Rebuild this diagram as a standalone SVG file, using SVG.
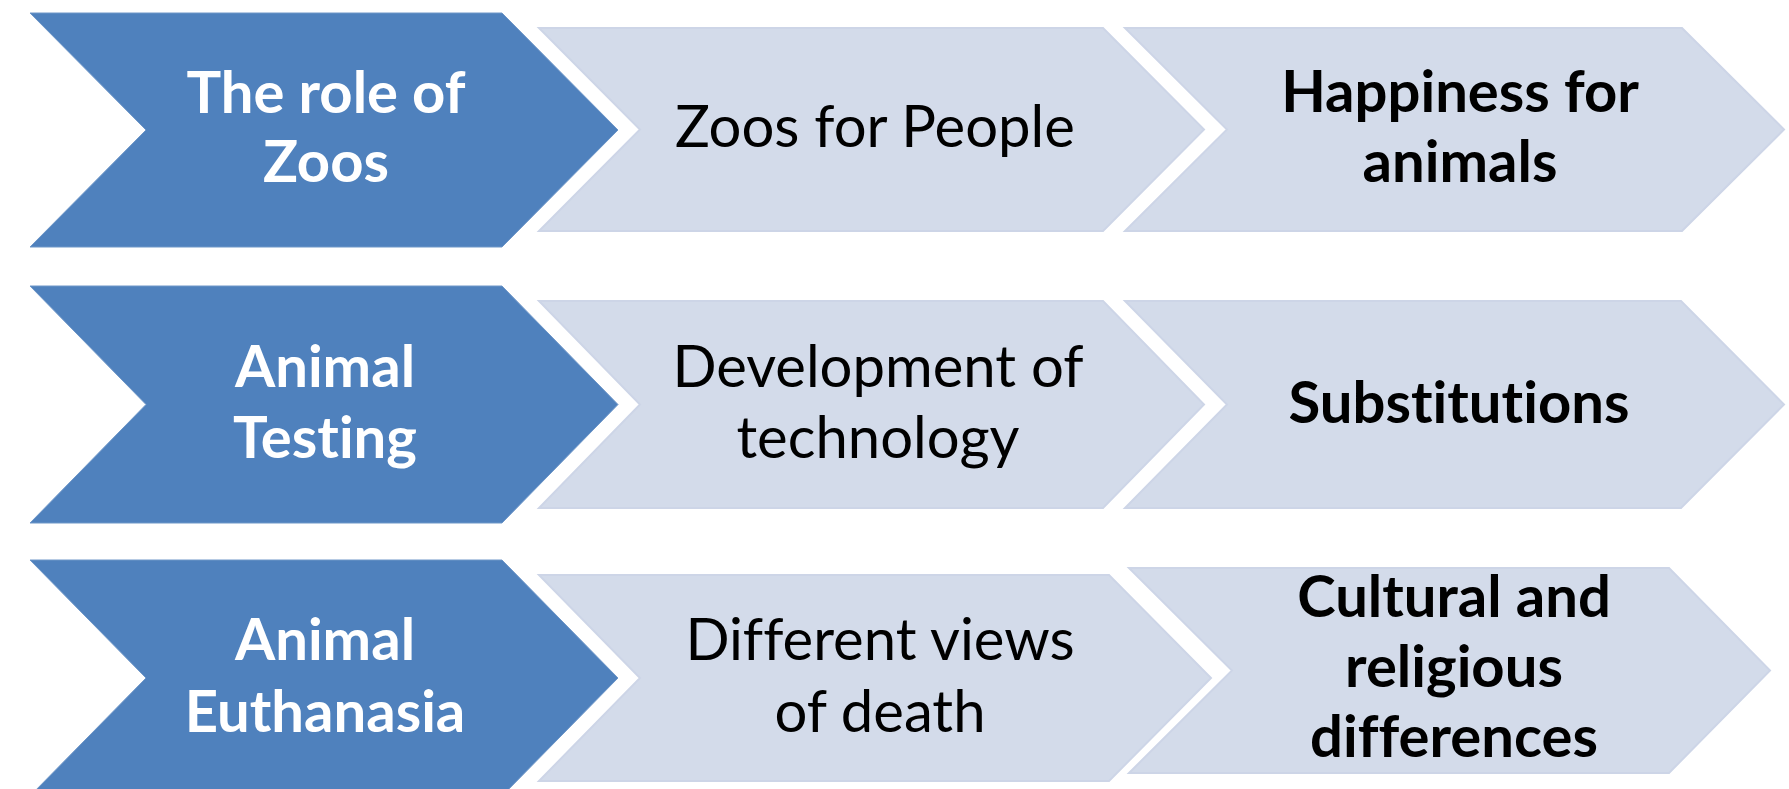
<svg xmlns="http://www.w3.org/2000/svg" width="1789" height="789" viewBox="0 0 1789 789">
<style>
.dark{fill:#4f81bd;stroke:#6f97c8;stroke-width:1}
.light{fill:#d3dbea;stroke:#cdd5e7;stroke-width:2}
text{font-family:Lato,"Liberation Sans",sans-serif;font-size:58px;text-anchor:middle;font-variant-ligatures:none;font-feature-settings:"liga" 0,"clig" 0}
.w{fill:#ffffff;font-weight:bold}
.b{fill:#000000;font-weight:bold}
.r{fill:#000000;font-weight:normal}
</style>
<rect width="1789" height="789" fill="#ffffff"/>
<g id="connectors"/>
<g id="row1-head">
<path class="dark" d="M30,13 L502,13 L618,130 L502,247 L30,247 L146,130 Z"/>
<text class="w" x="326" y="113">The role of</text>
<text class="w" x="326" y="182">Zoos</text>
</g>
<g id="row1-mid">
<path class="light" d="M539,28 L1103,28 L1204,129.5 L1103,231 L539,231 L640,129.5 Z"/>
<text class="r" x="875" y="147">Zoos for People</text>
</g>
<g id="row1-end">
<path class="light" d="M1125,28 L1682,28 L1784,129.5 L1682,231 L1125,231 L1227,129.5 Z"/>
<text class="b" x="1460" y="112">Happiness for</text>
<text class="b" x="1460" y="182">animals</text>
</g>
<g id="row2-head">
<path class="dark" d="M30,286 L502,286 L618,404.5 L502,523 L30,523 L146,404.5 Z"/>
<text class="w" x="325" y="387">Animal</text>
<text class="w" x="325" y="458">Testing</text>
</g>
<g id="row2-mid">
<path class="light" d="M539,301 L1103,301 L1204,404.5 L1103,508 L539,508 L640,404.5 Z"/>
<text class="r" x="878" y="387">Development of</text>
<text class="r" x="878" y="458">technology</text>
</g>
<g id="row2-end">
<path class="light" d="M1125,301 L1681,301 L1784,404.5 L1681,508 L1125,508 L1227,404.5 Z"/>
<text class="b" x="1459" y="423">Substitutions</text>
</g>
<g id="row3-head">
<path class="dark" d="M30,560 L502,560 L618,678 L502,796 L30,796 L146,678 Z"/>
<text class="w" x="325" y="660">Animal</text>
<text class="w" x="325" y="732">Euthanasia</text>
</g>
<g id="row3-mid">
<path class="light" d="M539,575 L1109,575 L1211,678 L1109,781 L539,781 L640,678 Z"/>
<text class="r" x="880" y="660">Different views</text>
<text class="r" x="880" y="732">of death</text>
</g>
<g id="row3-end">
<path class="light" d="M1129,568 L1669,568 L1770,670.5 L1669,773 L1129,773 L1232,670.5 Z"/>
<text class="b" x="1454" y="617">Cultural and</text>
<text class="b" x="1454" y="687">religious</text>
<text class="b" x="1454" y="757">differences</text>
</g>
</svg>
